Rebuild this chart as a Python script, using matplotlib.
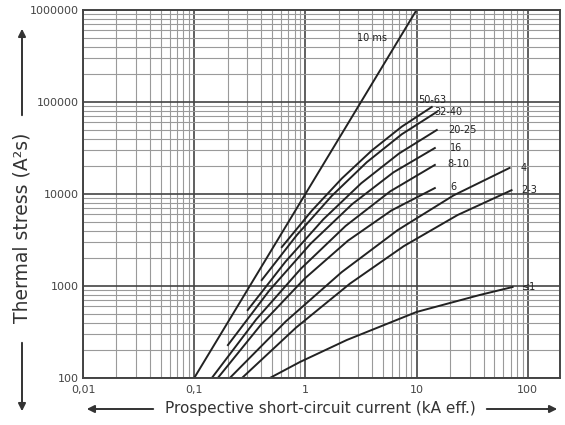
import matplotlib
matplotlib.use("Agg")
import matplotlib.pyplot as plt
from matplotlib.ticker import LogLocator, NullFormatter

plt.rcParams["font.family"] = ["DejaVu Sans"]

# prospective short-circuit current (kA) / let-through I2t (A2s)
ms10_current = [0.1, 10]
ms10_i2t = [100, 1000000]

cur_50_63 = [0.614, 1.142, 2.126, 3.957, 7.365, 13.7]
i2t_50_63 = [2650, 6585, 14740, 29720, 54000, 88300]

cur_32_40 = [0.405, 0.837, 1.728, 3.567, 7.365, 15.2]
i2t_32_40 = [1160, 3570, 9545, 22150, 44630, 78000]

cur_20_25 = [0.303, 0.664, 1.452, 3.177, 6.95, 15.2]
i2t_20_25 = [548, 1845, 5313, 13080, 27540, 49600]

cur_16 = [0.201, 0.473, 1.115, 2.628, 6.19, 14.6]
i2t_16 = [228, 891, 2885, 7737, 17180, 31600]

cur_8_10 = [0.144, 0.362, 0.913, 2.299, 5.79, 14.6]
i2t_8_10 = [100, 435, 1546, 4493, 10680, 20700]

cur_6 = [0.163, 0.400, 0.984, 2.416, 5.937, 14.6]
i2t_6 = [100, 382, 1202, 3110, 6619, 11600]

cur_4 = [0.209, 0.666, 2.12, 6.755, 21.5, 68.6]
i2t_4 = [100, 412, 1414, 4046, 9652, 19200]

cur_2_3 = [0.269, 0.822, 2.509, 7.662, 23.4, 71.5]
i2t_2_3 = [100, 352, 1058, 2709, 5910, 11000]

cur_1 = [0.479, 0.891, 2.36, 10.0, 36.9, 73.0]
i2t_1 = [100, 149, 259, 522, 798, 975]

fuse_labels = ["50-63", "32-40", "20-25", "16", "8-10", "6", "4", "2-3", "≤1"]
fuse_currents = [cur_50_63, cur_32_40, cur_20_25, cur_16, cur_8_10, cur_6, cur_4, cur_2_3, cur_1]
fuse_i2t = [i2t_50_63, i2t_32_40, i2t_20_25, i2t_16, i2t_8_10, i2t_6, i2t_4, i2t_2_3, i2t_1]
# label offset from curve end, points
label_offsets = [(-10, 5), (-2, 0), (8, 0), (11, 0), (9, 1), (11, 1), (8, 0), (7, 0), (7, 0)]

x_ticks = [0.01, 0.1, 1, 10, 100]
x_tick_labels = ["0,01", "0,1", "1", "10", "100"]
y_ticks = [100, 1000, 10000, 100000, 1000000]
y_tick_labels = ["100", "1000", "10000", "100000", "1000000"]

W, H = 565, 425
fig = plt.figure(figsize=(W / 100, H / 100), dpi=100)
ax = fig.add_axes([83 / W, 1 - 378 / H, (560 - 83) / W, (378 - 10) / H])

ax.set_xscale("log")
ax.set_yscale("log")
ax.set_xlim(0.01, 195)
ax.set_ylim(100, 1000000)

ax.xaxis.set_minor_locator(LogLocator(base=10, subs=range(2, 10)))
ax.yaxis.set_minor_locator(LogLocator(base=10, subs=range(2, 10)))
ax.xaxis.set_minor_formatter(NullFormatter())
ax.yaxis.set_minor_formatter(NullFormatter())
ax.grid(True, which="major", color="#444444", lw=1.2)
ax.grid(True, which="minor", color="#9a9a9a", lw=0.8)
ax.set_axisbelow(True)

ax.set_xticks(x_ticks, x_tick_labels)
ax.set_yticks(y_ticks, y_tick_labels)
ax.tick_params(which="both", length=0, labelsize=8, colors="#444444")
ax.tick_params(axis="x", pad=5)
ax.tick_params(axis="y", pad=3)
for sp in ax.spines.values():
    sp.set_color("#444444")
    sp.set_linewidth(1.4)

ax.plot(ms10_current, ms10_i2t, color="#222222", lw=1.4)
ax.annotate("10 ms", xy=(ms10_current[-1], ms10_i2t[-1]), xytext=(-21, -20),
            textcoords="offset points", ha="right", va="center",
            fontsize=7, color="#222222")

for lab, cur, val, off in zip(fuse_labels, fuse_currents, fuse_i2t, label_offsets):
    ax.plot(cur, val, color="#222222", lw=1.4)
    ax.annotate(lab, xy=(cur[-1], val[-1]), xytext=off, textcoords="offset points",
                ha="left", va="center", fontsize=7, color="#222222")

# axis titles with arrows
arrow = dict(arrowstyle="-|>", color="#333333", lw=1.4, mutation_scale=11)
fig.text(22 / W, 1 - 228 / H, "Thermal stress (A²s)", rotation=90,
         ha="center", va="center", fontsize=13.5, color="#333333")
ax.annotate("", xy=(22 / W, 1 - 26 / H), xytext=(22 / W, 1 - 118 / H),
            xycoords="figure fraction", arrowprops=arrow)
ax.annotate("", xy=(22 / W, 1 - 414 / H), xytext=(22 / W, 1 - 340 / H),
            xycoords="figure fraction", arrowprops=arrow)

fig.text(320 / W, 1 - 408 / H, "Prospective short-circuit current (kA eff.)",
         ha="center", va="center", fontsize=11, color="#333333")
ax.annotate("", xy=(84 / W, 1 - 409 / H), xytext=(156 / W, 1 - 409 / H),
            xycoords="figure fraction", arrowprops=arrow)
ax.annotate("", xy=(560 / W, 1 - 409 / H), xytext=(484 / W, 1 - 409 / H),
            xycoords="figure fraction", arrowprops=arrow)

fig.savefig("out.png", dpi=100)
